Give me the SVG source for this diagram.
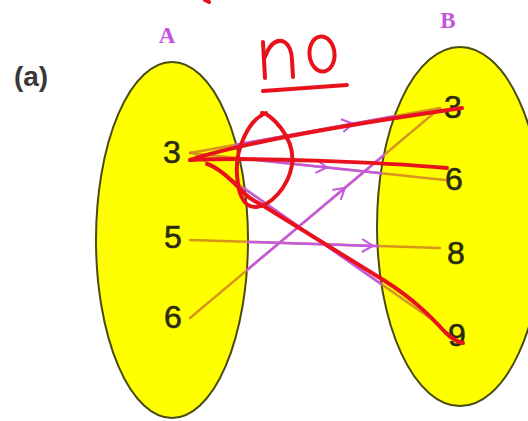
<svg xmlns="http://www.w3.org/2000/svg" width="528" height="421" viewBox="0 0 528 421">
<defs>
<style>
.set{fill:#ffff00;stroke:#4a4a12;stroke-width:2}
.num{font-family:"Liberation Sans",Arial,sans-serif;font-size:32px;fill:#2b2b10;stroke:#2b2b10;stroke-width:0.6;text-anchor:middle}
.lbl{font-family:"Liberation Serif","Times New Roman",serif;font-weight:bold;font-size:23px;fill:#c452e0;text-anchor:middle}
.org{fill:none;stroke:#d48a1e;stroke-width:2.5;stroke-linecap:round;opacity:0.9}
.mag{fill:none;stroke:#c458e2;stroke-width:2.5;stroke-linecap:round;marker-mid:url(#chev)}
.red{fill:none;stroke:#e8121c;stroke-width:4;stroke-linecap:round;stroke-linejoin:round}
</style>
<marker id="chev" viewBox="-12 -8 14 16" markerWidth="14" markerHeight="16" refX="0" refY="0" orient="auto" markerUnits="userSpaceOnUse">
<path d="M-11,-6.5 L0,0 L-11,6.5" fill="none" stroke="#c458e2" stroke-width="2"/>
</marker>
</defs>
<rect width="528" height="421" fill="#ffffff"/>
<text x="31" y="86" font-family="'Liberation Sans',Arial,sans-serif" font-weight="bold" font-size="28" fill="#383838" text-anchor="middle">(a)</text>
<g id="setA">
<ellipse class="set" cx="172" cy="240" rx="76" ry="178"/>
<text class="lbl" x="167" y="43">A</text>
</g>
<g id="setB">
<ellipse class="set" cx="460" cy="226.5" rx="83" ry="179.5"/>
<text class="lbl" x="448" y="28">B</text>
</g>
<g id="connectors">
<path class="org" d="M190,153 L440,108"/>
<path class="mag" d="M236,144.7 L353,123.7 L394,116.3"/>
<path class="org" d="M190,153 L445,180"/>
<path class="mag" d="M239,158.2 L327,167.5 L381,173.2"/>
<path class="org" d="M192,152 L440,325"/>
<path class="mag" d="M243.5,188 L381,284"/>
<path class="org" d="M190,240 L440,248"/>
<path class="mag" d="M248,241.9 L373,245.9 L378,246.1"/>
<path class="org" d="M190,318 L440,108"/>
<path class="mag" d="M247,270 L345,187.8 L384,155"/>
</g>
<g id="a3"><text class="num" x="172" y="163">3</text></g>
<g id="a5"><text class="num" x="173" y="248">5</text></g>
<g id="a6"><text class="num" x="173" y="328">6</text></g>
<g id="b3"><text class="num" x="453" y="118">3</text></g>
<g id="b6"><text class="num" x="454" y="190">6</text></g>
<g id="b8"><text class="num" x="456" y="264">8</text></g>
<g id="b9"><text class="num" x="457" y="346">9</text></g>
<g id="annotation">
<path class="red" d="M263,42 L265,78"/>
<path class="red" d="M265,57 C269,46 275,40 282,41 C289,43 292,52 292,60 L293,77"/>
<ellipse class="red" cx="322" cy="54" rx="12.5" ry="17.5" transform="rotate(-5 322 54)"/>
<path class="red" d="M263,91 L347,85"/>
<path class="red" d="M205,0 L209,2"/>
<path class="red" d="M262,113 C268,112 296,136 292,165 C288,188 270,206 256,207 C242,208 238,190 237,175 C235,150 248,120 266,113"/>
<path class="red" d="M190,160 Q255,138 462,108"/>
<path class="red" d="M190,160 C250,157 380,162 447,168"/>
<path class="red" d="M207,164 C218,167 230,178 245,194 C250,199 255,201 262,205 L385,281 C415,300 432,318 445,332 C452,339 458,342 463,343"/>
</g>
</svg>
